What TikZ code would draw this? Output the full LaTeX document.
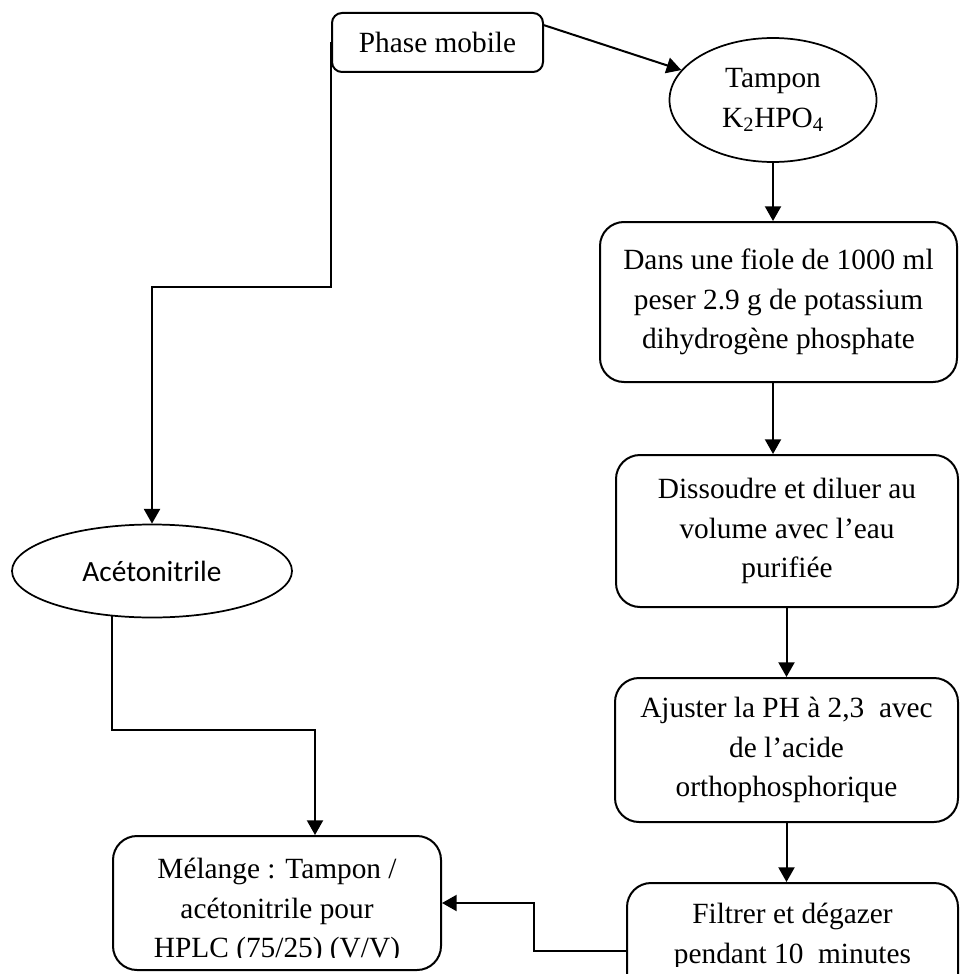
\documentclass[tikz,border=0pt]{standalone}
\usepackage{fontspec}
\setmainfont{Liberation Serif}
\newfontfamily\calibrifont{Carlito}
\usetikzlibrary{shapes.geometric,arrows.meta}
\begin{document}
\begin{tikzpicture}[x=0.75pt,y=-0.75pt,
  font=\fontsize{22}{29.5}\selectfont,
  box/.style={draw,line width=1.5pt,rounded corners=18pt,inner sep=0pt,align=center},
  ell/.style={draw,ellipse,line width=1.3pt,inner sep=0pt,align=center},
  txt/.style={inner sep=0pt,align=center},
  arr/.style={line width=1.5pt,-{Triangle[length=11pt,width=12pt]}}]
\useasboundingbox (0,0) rectangle (960,974);

% nodes
\node[box,rounded corners=7.5pt,minimum width=158.25pt,minimum height=44.25pt] (phase) at (437.5,42.5) {Phase mobile};
\node[ell,minimum width=155.25pt,minimum height=93pt] (tampon) at (773,100) {Tampon\\K\textsubscript{2}HPO\textsubscript{4}};
\node[box,minimum width=267.75pt,minimum height=120pt] (b1) at (778.5,302) {Dans une fiole de 1000 ml\\peser 2.9 g de potassium\\dihydrogène phosphate};
\node[box,minimum width=256.5pt,minimum height=114pt] (b2) at (787,531) {Dissoudre et diluer au\\volume avec l’eau\\purifiée};
\node[box,minimum width=257.25pt,minimum height=108pt] (b3) at (786.5,750) {Ajuster la PH à 2,3\ \ avec\\de l’acide\\orthophosphorique};
\node[box,minimum width=248.25pt,minimum height=102pt] (b4) at (792.5,951) {};
\node[ell,minimum width=210pt,minimum height=69.75pt,font=\calibrifont\fontsize{22}{26}\selectfont] (acet) at (152,571) {Acétonitrile};
\node[box,minimum width=246pt,minimum height=100.5pt] (mel) at (277,903) {};

\begin{scope}
  \clip (600,870) rectangle (960,966);
  \node[txt] (t4) at (792.5,936.5) {Filtrer et dégazer\\pendant 10\ \ minutes};
\end{scope}
\begin{scope}
  \clip (113,840) rectangle (441,957);
  \node[txt] (tmel) at (277,911) {Mélange : Tampon /\\acétonitrile pour\\HPLC (75/25) (V/V)};
\end{scope}

% bend coordinates
\coordinate (bendA) at (0,287);
\coordinate (bendB) at (0,730);
\coordinate (bendC) at (534,903);

% connectors
\draw[arr] ([yshift=13pt]phase.east) -- (tampon);
\draw[arr] (phase.west) -- (phase.west |- bendA) -| (acet.north);
\draw[arr] (tampon.south) -- (tampon.south |- b1.north);
\draw[arr] (b1.south -| tampon.south) -- (b2.north -| tampon.south);
\draw[arr] (b2.south -| b3.north) -- (b3.north);
\draw[arr] (b3.south) -- (b3.south |- b4.north);
\draw[arr] (acet.-131) -- (acet.-131 |- bendB) -| ([xshift=28.5pt]mel.north);
\draw[arr] (b4.west) -| (bendC) -- (mel.east);
\end{tikzpicture}
\end{document}
